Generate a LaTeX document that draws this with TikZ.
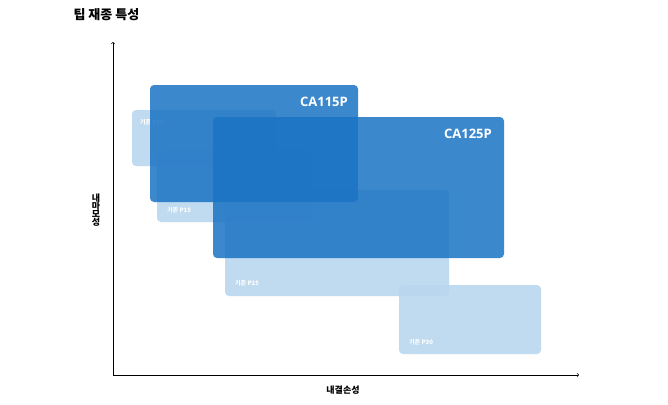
\documentclass[tikz,border=0pt]{standalone}
\usepackage{fontspec}
\newfontfamily\kr{Noto Sans CJK KR}
\setsansfont{Open Sans}
\definecolor{lightblue}{HTML}{B9D6EE}
\definecolor{deepblue}{HTML}{1A73C4}
\tikzset{
  oldgrade/.style={fill=lightblue, opacity=0.9, rounded corners=4pt},
  newgrade/.style={fill=deepblue, opacity=0.85, rounded corners=4pt},
  oldlabel/.style={text=white, font=\kr\bfseries\fontsize{6}{7}\selectfont, anchor=west, inner sep=0pt},
  newlabel/.style={text=white, font=\sffamily\bfseries\fontsize{13}{15}\selectfont, anchor=east, inner sep=0pt}
}
\begin{document}
\begin{tikzpicture}[x=1pt, y=-1pt]
  \useasboundingbox (0,0) rectangle (668,404);
  \node[anchor=west, font=\kr\bfseries\fontsize{13}{15}\selectfont] (title) at (70,15) {팁 재종 특성};
  % axes
  \coordinate (origin) at (113,375);
  \coordinate (ytop) at (113,42);
  \coordinate (xend) at (579,375);
  \draw[->, line width=0.6pt] (origin) -- (ytop);
  \draw[->, line width=0.6pt] (origin) -- (xend);
  \node[font=\kr\bfseries\fontsize{9}{11}\selectfont, align=center] (ylab) at (96,210) {내\\[-3pt]마\\[-3pt]모\\[-3pt]성};
  \node[font=\kr\bfseries\fontsize{9}{11}\selectfont] (xlab) at (343,390) {내결손성};
  % existing grades
  \fill[oldgrade] (132,110) rectangle (276,166);
  \fill[oldgrade] (157,150) rectangle (313,222);
  \fill[oldgrade] (225,190) rectangle (449,296);
  \fill[oldgrade] (399,285) rectangle (541,354);
  \node[oldlabel] (p10) at (140,122) {기존 P10};
  \node[oldlabel] (p15) at (167,210) {기존 P15};
  \node[oldlabel] (p25) at (235,283) {기존 P25};
  \node[oldlabel] (p30) at (409,342) {기존 P30};
  % new grades
  \fill[newgrade] (150,85) rectangle (358,202);
  \fill[newgrade] (213,117) rectangle (504,258);
  \node[newlabel] (ca115) at (348,102) {CA115P};
  \node[newlabel] (ca125) at (492,134) {CA125P};
\end{tikzpicture}
\end{document}
